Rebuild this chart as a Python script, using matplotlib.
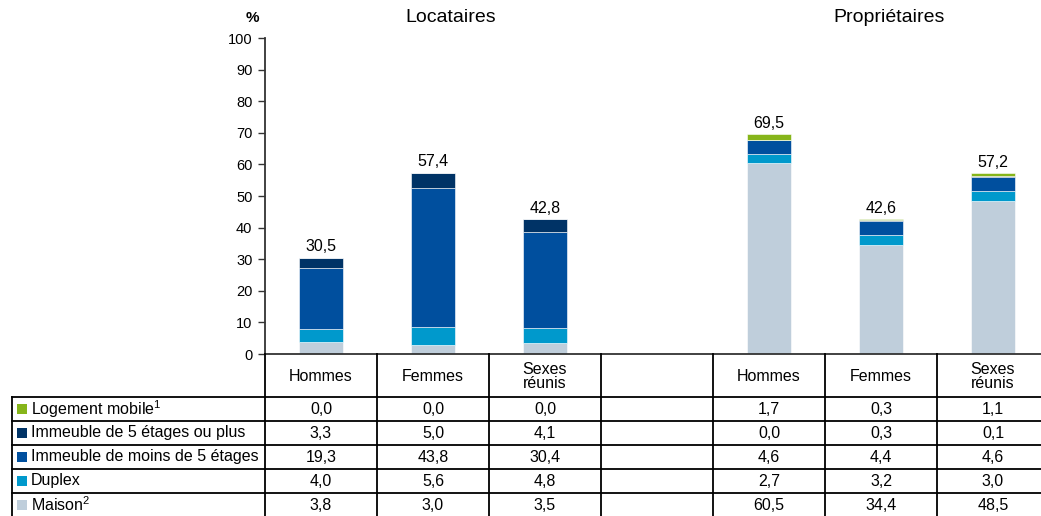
import matplotlib.pyplot as plt
from matplotlib.patches import Rectangle

plt.rcParams['font.family'] = ['Liberation Sans', 'DejaVu Sans']
plt.rcParams['mathtext.default'] = 'regular'

# 7 columns : Locataires (H, F, S), empty gap, Propriétaires (H, F, S)
colonnes = ["Hommes", "Femmes", "Sexes\nréunis", "", "Hommes", "Femmes", "Sexes\nréunis"]
series = ["Logement mobile$^1$", "Immeuble de 5 étages ou plus",
          "Immeuble de moins de 5 étages", "Duplex", "Maison$^2$"]
mobile = [0.0, 0.0, 0.0, None, 1.7, 0.3, 1.1]
imm_5plus = [3.3, 5.0, 4.1, None, 0.0, 0.3, 0.1]
imm_moins5 = [19.3, 43.8, 30.4, None, 4.6, 4.4, 4.6]
duplex = [4.0, 5.6, 4.8, None, 2.7, 3.2, 3.0]
maison = [3.8, 3.0, 3.5, None, 60.5, 34.4, 48.5]
totaux = [30.5, 57.4, 42.8, None, 69.5, 42.6, 57.2]
couleurs = ["#86B51A", "#003366", "#004F9E", "#0099CC", "#BFCEDB"]

W, H = 1041, 516
fig = plt.figure(figsize=(W / 100, H / 100), dpi=100)

# main chart
ax = fig.add_axes([265 / W, (H - 354) / H, (1049 - 265) / W, (354 - 38) / H])
ax.set_xlim(-0.5, 6.5)
ax.set_ylim(0, 100)

idx = [i for i, v in enumerate(totaux) if v is not None]
bas = [0.0] * len(idx)
empilement = [maison, duplex, imm_moins5, imm_5plus, mobile]
couleurs_emp = couleurs[::-1]
for vals, c in zip(empilement, couleurs_emp):
    v = [vals[i] for i in idx]
    ax.bar(idx, v, width=0.39, bottom=bas, color=c, edgecolor="white", linewidth=0.4)
    bas = [b + x for b, x in zip(bas, v)]

for i in idx:
    ax.text(i, totaux[i] + 1.0, f"{totaux[i]:.1f}".replace(".", ","),
            ha="center", va="bottom", fontsize=11.5)

ax.set_yticks(range(0, 101, 10))
ax.tick_params(axis="y", length=5, width=1, color="#333333", labelsize=10.5, pad=4)
ax.set_xticks([])
for s in ["top", "right"]:
    ax.spines[s].set_visible(False)
ax.spines["left"].set_color("#333333")
ax.spines["left"].set_linewidth(1.3)
ax.spines["bottom"].set_color("#333333")
ax.spines["bottom"].set_linewidth(1.3)

fig.text(252 / W, 1 - 18 / H, "%", ha="center", va="center", fontsize=11, fontweight="bold")
fig.text(451 / W, 1 - 18 / H, "Locataires", ha="center", va="center", fontsize=14)
fig.text(889 / W, 1 - 18 / H, "Propriétaires", ha="center", va="center", fontsize=14)

# data table (y in pixels from the x axis downwards, x: 112 px per column)
tab = fig.add_axes([265 / W, -1 / H, (1049 - 265) / W, 163 / H])
tab.set_xlim(-0.5, 6.5)
tab.set_ylim(163, 0)
tab.axis("off")
lignes = [0, 43, 67, 91, 115, 139, 163]
px = 1 / 112
x_gauche = -0.5 - (265 - 12) * px
lc = "black"
for k in range(8):
    tab.plot([k - 0.5, k - 0.5], [0, 163], color=lc, lw=1.3, clip_on=False)
tab.plot([x_gauche, x_gauche], [lignes[1], 163], color=lc, lw=1.3, clip_on=False)
for y in lignes[1:]:
    tab.plot([x_gauche, 6.5], [y, y], color=lc, lw=1.3, clip_on=False)

for k, txt in enumerate(colonnes):
    tab.text(k, lignes[1] / 2 + 1, txt, ha="center", va="center", fontsize=11.5, linespacing=1.0)

valeurs = [mobile, imm_5plus, imm_moins5, duplex, maison]
for r, (nom, vals, c) in enumerate(zip(series, valeurs, couleurs)):
    yc = (lignes[r + 1] + lignes[r + 2]) / 2
    tab.add_patch(Rectangle((x_gauche + 5 * px, yc - 5), 10 * px, 10, color=c,
                            lw=0, clip_on=False))
    tab.text(x_gauche + 19 * px, yc, nom, ha="left", va="center", fontsize=11.5, clip_on=False)
    for k, v in enumerate(vals):
        if v is not None:
            tab.text(k, yc, f"{v:.1f}".replace(".", ","), ha="center", va="center", fontsize=11.5)

fig.savefig("out.png", dpi=100)
